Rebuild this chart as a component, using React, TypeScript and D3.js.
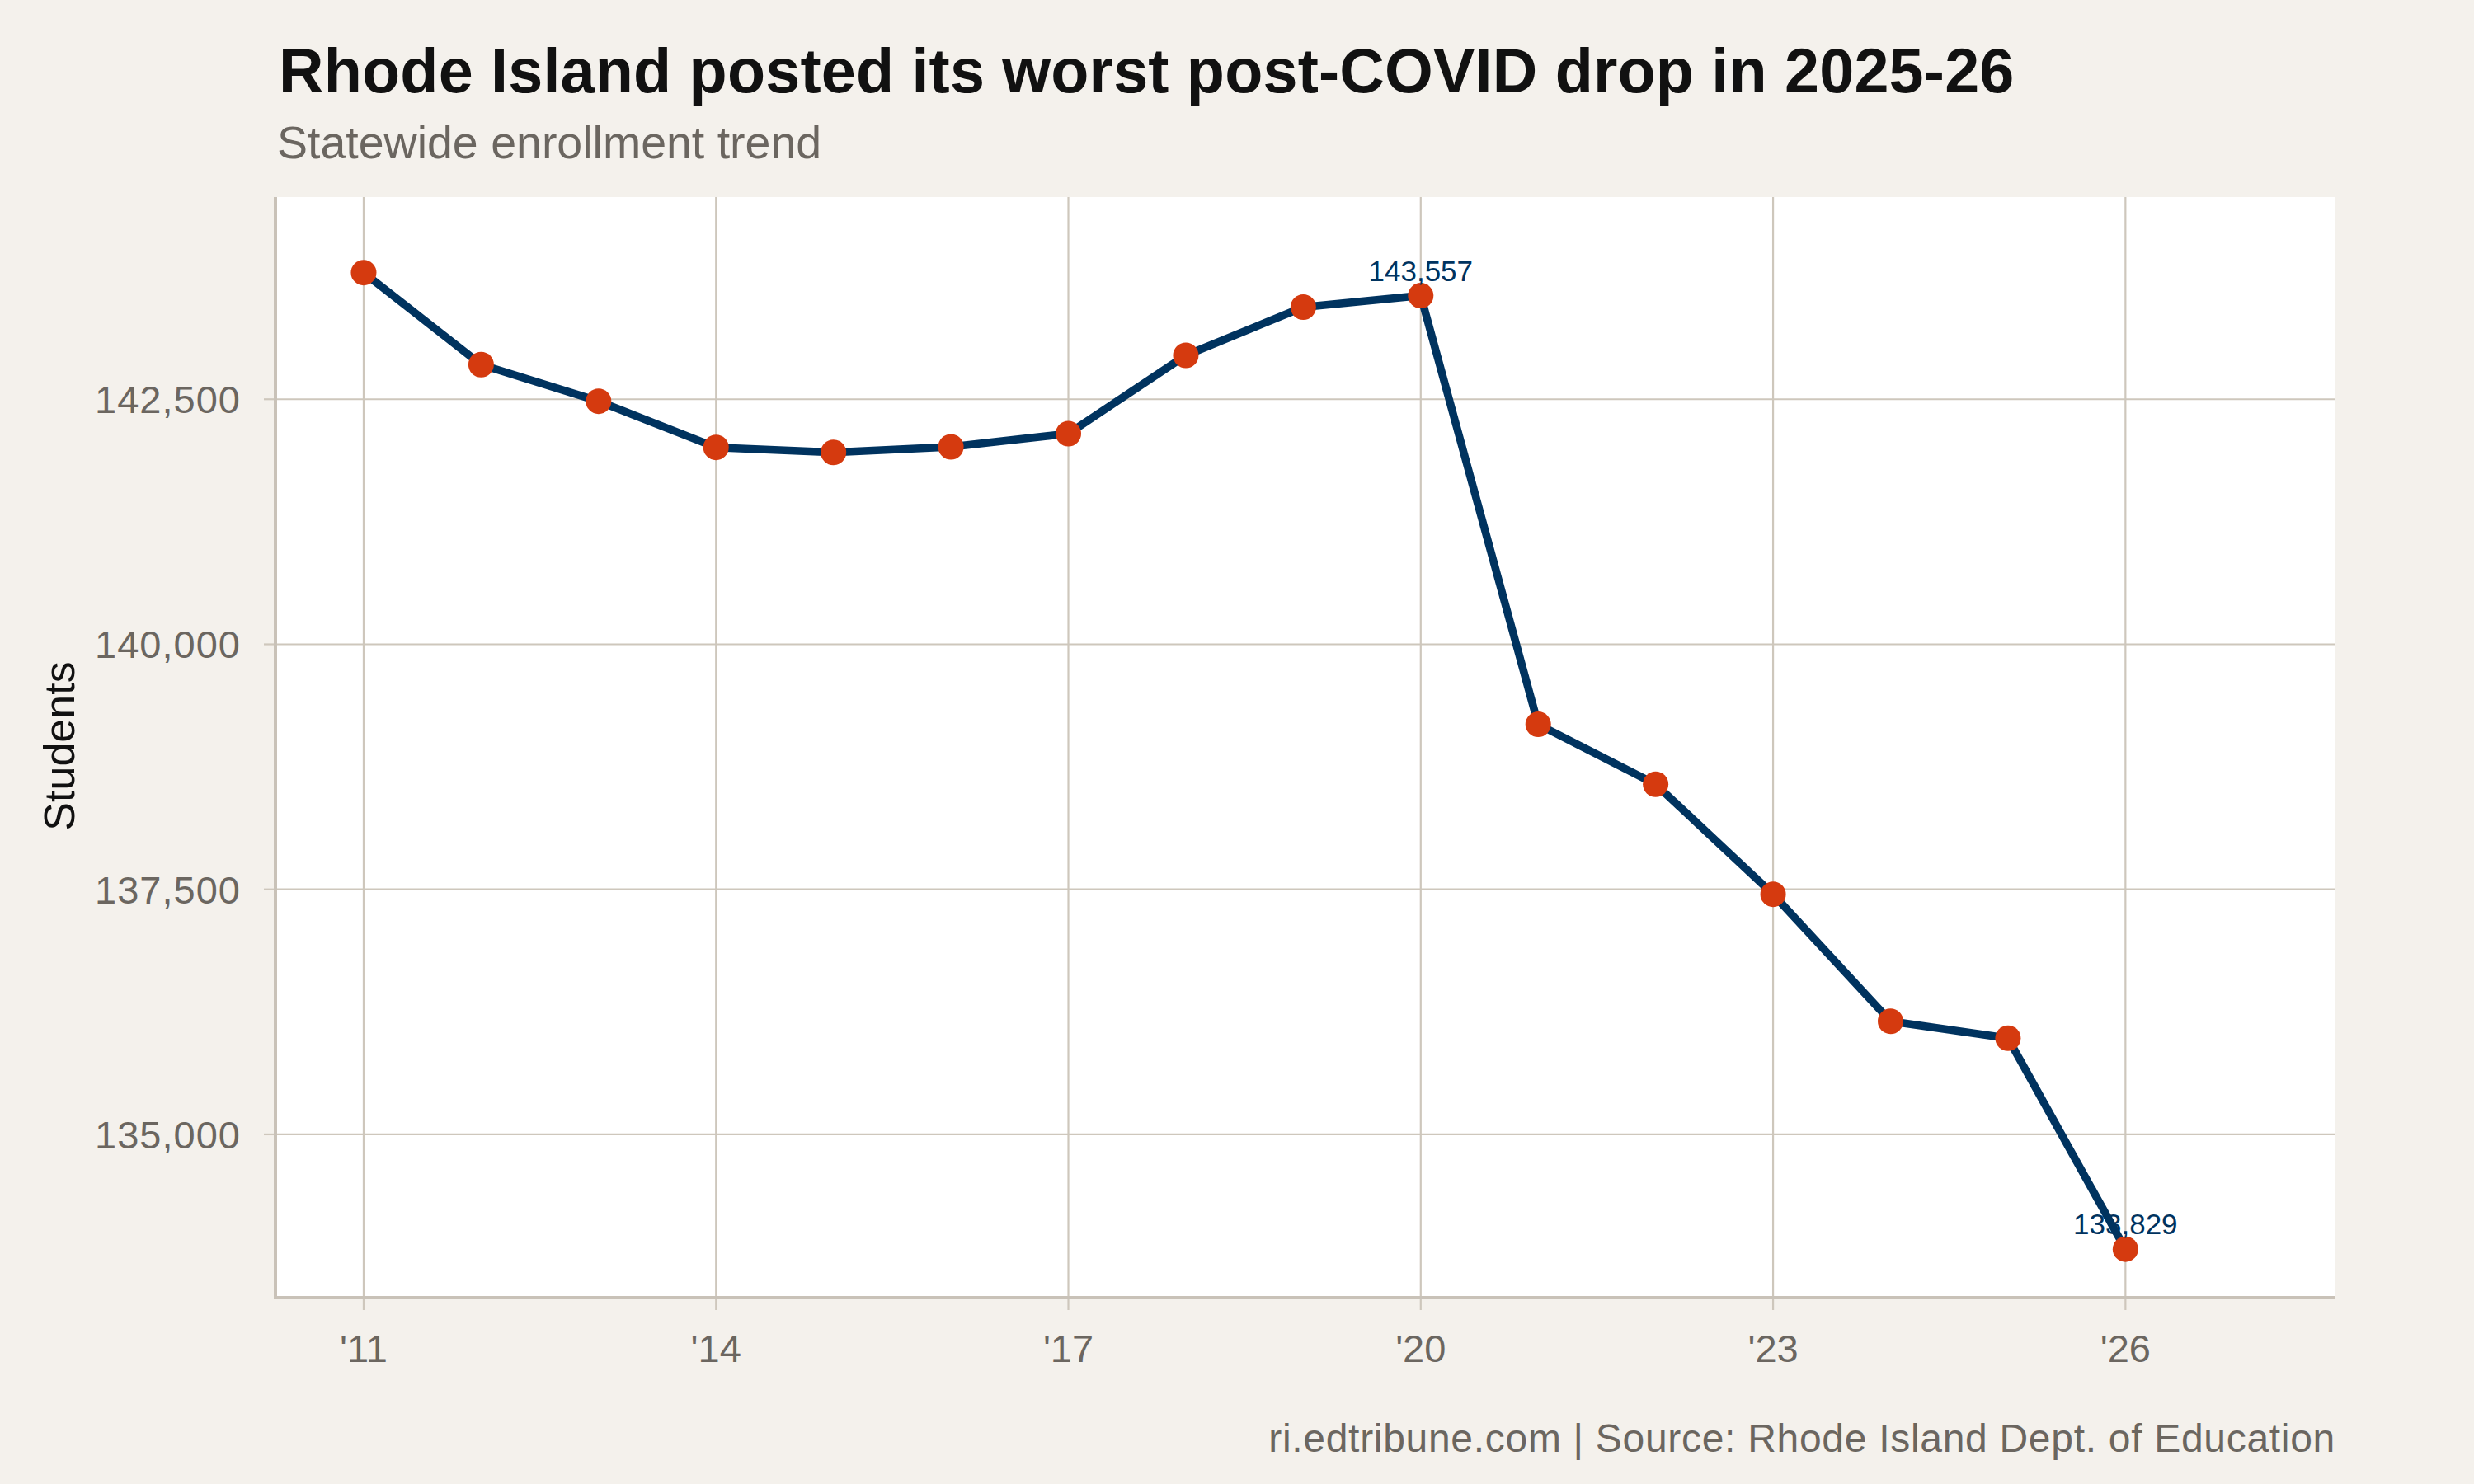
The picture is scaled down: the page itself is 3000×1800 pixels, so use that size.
import React from 'react';
import * as d3 from 'd3';

// statewide enrollment
const years = [2011, 2012, 2013, 2014, 2015, 2016, 2017, 2018, 2019, 2020, 2021, 2022, 2023, 2024, 2025, 2026];
const students = [143792, 142853, 142480, 142009, 141958, 142015, 142149, 142948, 143440, 143557, 139183, 138572, 137450, 136154, 135981, 133829];
const xTicks = [2011, 2014, 2017, 2020, 2023, 2026];
const yTicks = [135000, 137500, 140000, 142500];
const labelledYears = [2020, 2026];

const W = 3000;
const H = 1800;
const panel = { left: 334, right: 2831, top: 239, bottom: 1574 };

const BG = '#f4f1ec';
const GRID = '#cec7bc';
const AXIS = '#c9c2b8';
const MUTED = '#6b6660';
const NAVY = '#00335f';
const ORANGE = '#d53a0f';
const FONT = '"Liberation Sans", Arial, Helvetica, sans-serif';

const App = () => {
  const x = d3.scaleLinear().domain([2010.249, 2027.781]).range([panel.left, panel.right]);
  const y = d3.scaleLinear().domain([133334, 144563]).range([panel.bottom, panel.top]);

  const data = years.map((yr, i) => ({ yr, v: students[i] }));
  const line = d3.line<{ yr: number; v: number }>().x(d => x(d.yr)).y(d => y(d.v));
  const fmt = d3.format(',');

  return (
    <svg width={W} height={H} style={{ position: 'absolute', left: 0, top: 0, fontFamily: FONT }}>
      <rect width={W} height={H} fill={BG} />

      {/* titles */}
      <text x={338} y={112} fontSize={75.5} fontWeight="bold" fill="#111" letterSpacing={0.2}>
        Rhode Island posted its worst post-COVID drop in 2025-26
      </text>
      <text x={336} y={192} fontSize={55.5} fill={MUTED}>Statewide enrollment trend</text>

      {/* panel */}
      <rect x={panel.left} y={panel.top} width={panel.right - panel.left} height={panel.bottom - panel.top} fill="#fff" />

      {yTicks.map(t => (
        <g key={t}>
          <line x1={panel.left} x2={panel.right} y1={y(t)} y2={y(t)} stroke={GRID} strokeWidth={2.2} />
          <line x1={panel.left - 14} x2={panel.left} y1={y(t)} y2={y(t)} stroke={GRID} strokeWidth={2.2} />
          <text x={292} y={y(t)} dy="0.36em" textAnchor="end" fontSize={47} letterSpacing={1} fill={MUTED}>{fmt(t)}</text>
        </g>
      ))}
      {xTicks.map(t => (
        <g key={t}>
          <line x1={x(t)} x2={x(t)} y1={panel.top} y2={panel.bottom} stroke={GRID} strokeWidth={2.2} />
          <line x1={x(t)} x2={x(t)} y1={panel.bottom} y2={panel.bottom + 15} stroke={GRID} strokeWidth={2.2} />
          <text x={x(t)} y={1652} textAnchor="middle" fontSize={47} fill={MUTED}>{`'${String(t).slice(2)}`}</text>
        </g>
      ))}

      {/* axis lines */}
      <line x1={panel.left} x2={panel.left} y1={panel.top} y2={panel.bottom + 2} stroke={AXIS} strokeWidth={4} />
      <line x1={panel.left - 2} x2={panel.right} y1={panel.bottom} y2={panel.bottom} stroke={AXIS} strokeWidth={4} />

      <text transform={`translate(90,905) rotate(-90)`} textAnchor="middle" fontSize={52} fill="#111">Students</text>

      {/* series */}
      <path d={line(data) ?? ''} fill="none" stroke={NAVY} strokeWidth={9.5} strokeLinejoin="round" />
      {data.map(d => (
        <circle key={d.yr} cx={x(d.yr)} cy={y(d.v)} r={15.5} fill={ORANGE} />
      ))}
      {data.filter(d => labelledYears.includes(d.yr)).map(d => (
        <text key={d.yr} x={x(d.yr)} y={y(d.v) - 18} textAnchor="middle" fontSize={35} fill={NAVY}>{fmt(d.v)}</text>
      ))}

      <text x={2832} y={1761} textAnchor="end" fontSize={48} letterSpacing={0.7} fill={MUTED}>
        ri.edtribune.com | Source: Rhode Island Dept. of Education
      </text>
    </svg>
  );
};

export default App;
